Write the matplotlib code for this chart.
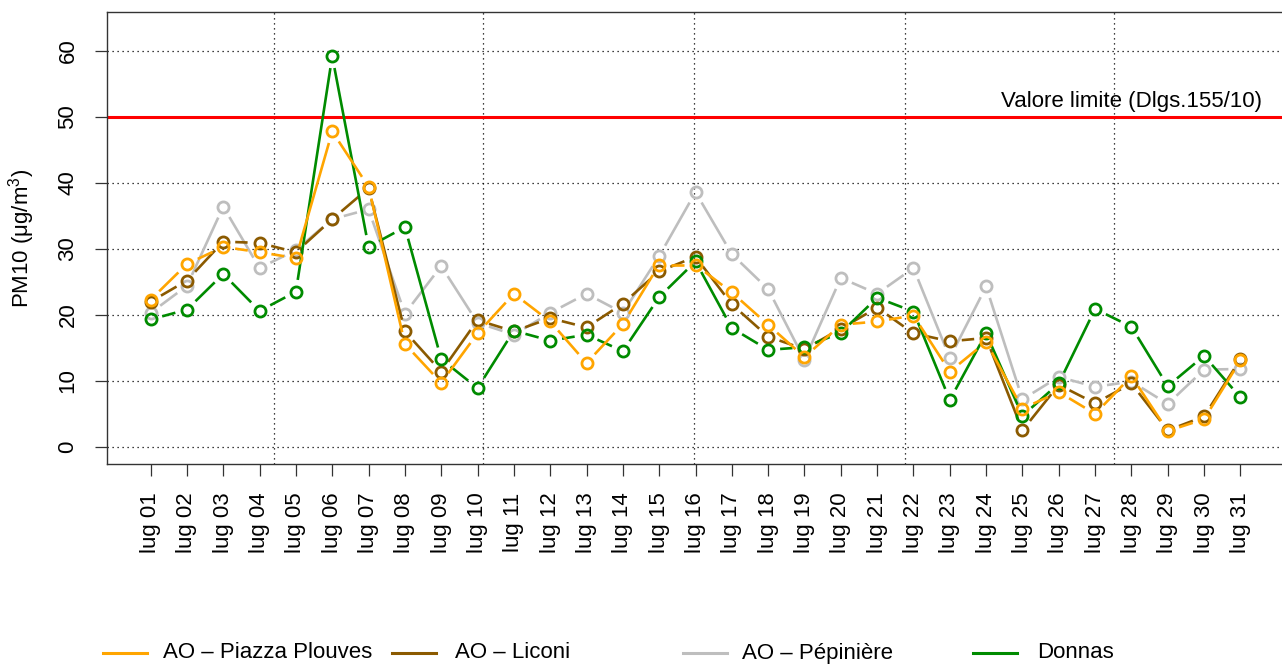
import numpy as np
import matplotlib.pyplot as plt
from matplotlib.lines import Line2D

plt.rcParams['font.family'] = ['Liberation Sans', 'DejaVu Sans']
plt.rcParams['mathtext.fontset'] = 'custom'
plt.rcParams['mathtext.rm'] = 'Liberation Sans'

# dati PM10 luglio
giorni = ['lug %02d' % d for d in range(1, 32)]

piazza_plouves = [22.3, 27.7, 30.3, 29.5, 28.6, 47.8, 39.4, 15.6, 9.7, 17.2,
                  23.2, 19.0, 12.7, 18.6, 27.6, 27.6, 23.4, 18.5, 13.6, 18.5,
                  19.0, 19.9, 11.4, 15.9, 5.8, 8.3, 5.0, 10.7, 2.4, 4.2, 13.1]
liconi = [22.0, 25.2, 31.1, 30.9, 29.5, 34.5, 39.2, 17.5, 11.4, 19.2,
          17.5, 19.5, 18.1, 21.7, 26.6, 28.8, 21.6, 16.7, 14.8, 17.9,
          21.1, 17.2, 16.0, 16.5, 2.5, 9.4, 6.6, 9.6, 2.5, 4.6, 13.3]
pepiniere = [20.3, 24.4, 36.4, 27.1, 29.8, 34.5, 36.0, 20.2, 27.4, 18.8,
             17.0, 20.3, 23.2, 20.3, 28.9, 38.6, 29.2, 23.9, 13.2, 25.6,
             23.2, 27.1, 13.5, 24.3, 7.2, 10.6, 9.1, 9.9, 6.5, 11.7, 11.8]
donnas = [19.3, 20.8, 26.2, 20.6, 23.5, 59.2, 30.3, 33.3, 13.3, 8.9,
          17.6, 16.1, 17.0, 14.5, 22.7, 28.1, 18.0, 14.7, 15.1, 17.3,
          22.6, 20.5, 7.1, 17.2, 4.7, 9.6, 20.9, 18.2, 9.2, 13.8, 7.5]

nomi = ['AO \u2013 Piazza Plouves', 'AO \u2013 Liconi', 'AO \u2013 P\u00e9pini\u00e8re', 'Donnas']
colori = ['#FFA500', '#8B5A00', '#BEBEBE', '#008B00']
serie = [piazza_plouves, liconi, pepiniere, donnas]
valore_limite = 50

FS = 16
W, H = 1282, 667
fig = plt.figure(figsize=(W / 100, H / 100), dpi=100)
ax = fig.add_axes([107 / W, 1 - 464 / H, (1284 - 107) / W, 452 / H])

x = np.arange(len(giorni))
ax.set_xlim(-1.2, 31.2)
ax.set_ylim(-2.6, 65.9)

# griglia punteggiata
for yy in range(0, 61, 10):
    ax.axhline(yy, color='black', linestyle=(0, (1, 3)), linewidth=0.9, zorder=1)
for xx in [3.39, 9.14, 14.95, 20.78, 26.53]:
    ax.axvline(xx, color='black', linestyle=(0, (1, 3)), linewidth=0.9, zorder=1)

ax.axhline(valore_limite, color='red', linewidth=2.2, zorder=2)
ax.text(30.6, valore_limite + 0.7, 'Valore limite (Dlgs.155/10)', ha='right', va='bottom',
        fontsize=FS, zorder=6)

fig.canvas.draw()


# linee tipo "b" di R: segmenti interrotti attorno ai punti
def linea_b(ax, xs, ys, colore, z, gap=12):
    pts = ax.transData.transform(np.column_stack([xs, ys]))
    inv = ax.transData.inverted()
    for i in range(len(pts) - 1):
        p0, p1 = pts[i], pts[i + 1]
        d = p1 - p0
        lung = np.hypot(*d)
        if lung <= 2 * gap:
            continue
        u = d / lung
        a = inv.transform(p0 + u * gap)
        b = inv.transform(p1 - u * gap)
        ax.plot([a[0], b[0]], [a[1], b[1]], color=colore, linewidth=1.9,
                solid_capstyle='butt', zorder=z)
    ax.plot(xs, ys, linestyle='none', marker='o', markersize=8, markerfacecolor='none',
            markeredgecolor=colore, markeredgewidth=2.0, zorder=z)


ordine = [2, 1, 3, 0]
for k, i in enumerate(ordine):
    linea_b(ax, x, serie[i], colori[i], 3 + k * 0.1)

ax.set_xticks(x)
ax.set_xticklabels(giorni, rotation=90, fontsize=FS)
ax.set_yticks(range(0, 61, 10))
ax.set_yticklabels([str(v) for v in range(0, 61, 10)], rotation=90, va='center', fontsize=FS)
ax.tick_params(axis='both', direction='out', length=8.6, width=0.9, color='#333333', pad=12)
ax.set_ylabel('PM10 (\u03bcg/m$^3$)', fontsize=FS)
ax.yaxis.set_label_coords((22 - 107) / (1284 - 107), 0.5)
ax.yaxis.label.set_verticalalignment('center')
for sp in ax.spines.values():
    sp.set_linewidth(1.0)
    sp.set_color('#333333')

# legenda in basso
leg_y = 1 - 653 / H
linee_x = [103, 392, 683, 973]
testi_x = [163, 455, 742, 1037]
for i in range(4):
    fig.add_artist(Line2D([linee_x[i] / W, (linee_x[i] + 44) / W], [leg_y, leg_y],
                          color=colori[i], linewidth=2.2, transform=fig.transFigure))
    fig.text(testi_x[i] / W, leg_y, nomi[i], ha='left', va='center', fontsize=FS)

fig.savefig('out.png', dpi=100)
